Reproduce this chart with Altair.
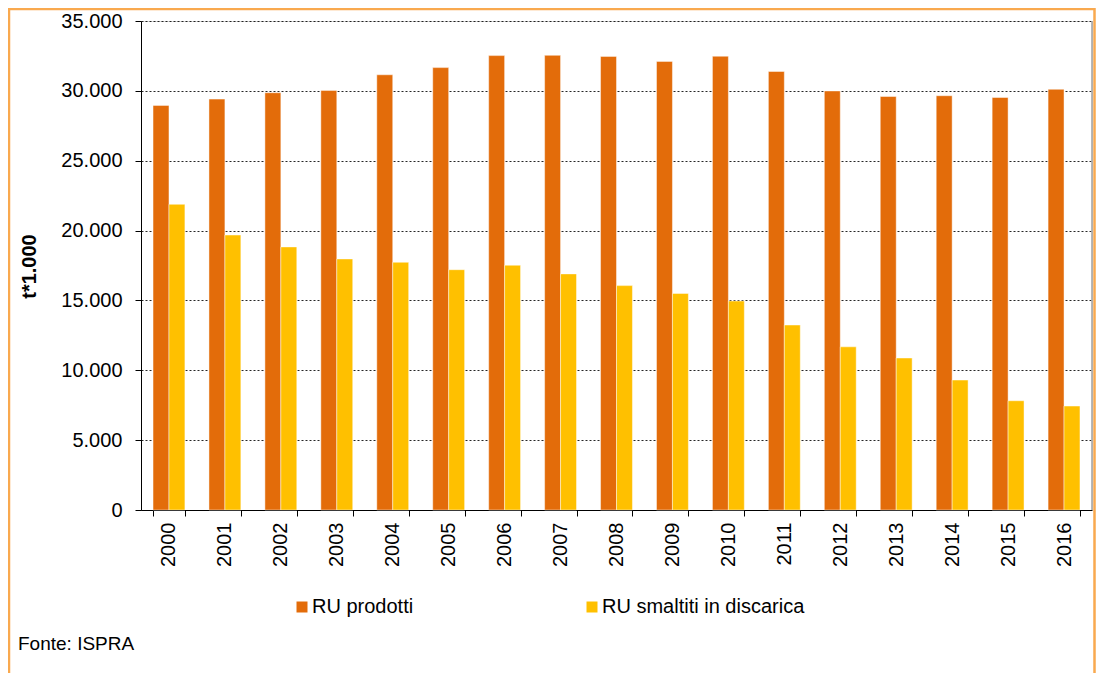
import altair as alt
import pandas as pd

years = [str(y) for y in range(2000, 2017)]
ru_prodotti = [28959, 29409, 29864, 30034, 31150, 31664, 32523, 32542, 32467,
               32110, 32479, 31386, 29994, 29595, 29652, 29524, 30112]
ru_discarica = [21880, 19680, 18830, 17970, 17730, 17200, 17520, 16900, 16060,
                15500, 14960, 13240, 11680, 10880, 9300, 7820, 7440]
series = ["RU prodotti", "RU smaltiti in discarica"]
colors = ["#E36C0A", "#FFC000"]
y_ticks = [0, 5000, 10000, 15000, 20000, 25000, 30000, 35000]

rows = []
for i, y in enumerate(years):
    rows.append({"anno": y, "serie": series[0], "valore": ru_prodotti[i]})
    rows.append({"anno": y, "serie": series[1], "valore": ru_discarica[i]})
df = pd.DataFrame(rows)

W, H = 951, 489
FONT = "Liberation Sans"

bars = alt.Chart(df).mark_bar(stroke="#FFFFFF", strokeWidth=1, strokeOpacity=0.45).encode(
    x=alt.X("anno:N", sort=years,
            scale=alt.Scale(paddingInner=0.43, paddingOuter=0.215),
            axis=alt.Axis(title=None, labelAngle=270, labelFontSize=20, labelFont=FONT,
                          labelColor="#000", tickBand="extent", tickSize=6,
                          tickColor="#000", domainColor="#000", labelPadding=6,
                          grid=False)),
    xOffset=alt.XOffset("serie:N", sort=series, scale=alt.Scale(paddingInner=0, paddingOuter=0)),
    y=alt.Y("valore:Q",
            scale=alt.Scale(domain=[0, 35000], nice=False),
            axis=alt.Axis(title="t*1.000", values=y_ticks,
                          labelExpr="replace(format(datum.value, ','), ',', '.')",
                          labelFontSize=20, labelFont=FONT, labelColor="#000",
                          labelPadding=13, tickSize=6, tickColor="#000",
                          domainColor="#000", grid=True, gridColor="#000000",
                          gridDash=[2, 2], gridWidth=1, gridOpacity=0.85,
                          titleFont=FONT, titleFontSize=20, titleFontWeight="bold",
                          titleColor="#000", titleAngle=270, titleX=-112, titleY=245,
                          titleAlign="center", titleBaseline="middle")),
    color=alt.Color("serie:N", sort=series,
                    scale=alt.Scale(domain=series, range=colors),
                    legend=alt.Legend(title=None, orient="none", direction="horizontal",
                                      legendX=151, legendY=576, symbolType="square",
                                      symbolSize=121, symbolStrokeWidth=0,
                                      labelFont=FONT, labelFontSize=20, labelColor="#000",
                                      labelOffset=0, columnPadding=168, labelLimit=400)),
)

right_edge = alt.Chart(pd.DataFrame({"k": [0]})).mark_rule(color="#A0A0A0", strokeWidth=1.5).encode(
    x=alt.value(W), y=alt.value(0), y2=alt.value(H)
)

frame = alt.Chart(pd.DataFrame({"k": [0]})).mark_rect(
    fill=None, filled=False, stroke="#F9A94F", strokeWidth=2.5
).encode(x=alt.value(-132), x2=alt.value(W + 2.5), y=alt.value(-12), y2=alt.value(700))

source = alt.Chart(pd.DataFrame({"t": ["Fonte: ISPRA"]})).mark_text(
    align="left", baseline="alphabetic", font=FONT, fontSize=19, color="#000"
).encode(x=alt.value(-123), y=alt.value(629), text="t:N")

chart = alt.layer(bars, right_edge, frame, source).properties(
    width=W, height=H,
    autosize=alt.AutoSizeParams(type="none"),
    padding={"left": 133, "top": 13, "right": 4, "bottom": 163},
).configure_view(stroke=None).configure(background="#FFFFFF")

chart.save("out.html", embed_options={"renderer": "svg", "actions": False})
